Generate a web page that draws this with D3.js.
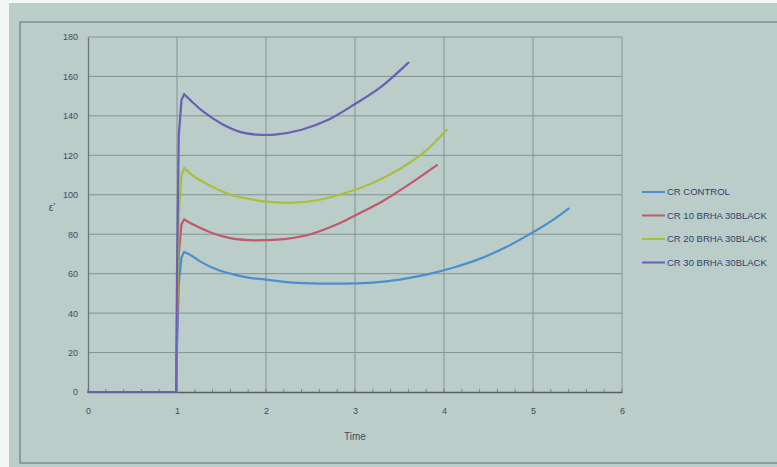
<!DOCTYPE html>
<html><head><meta charset="utf-8">
<script src="https://cdn.jsdelivr.net/npm/d3@7"></script>
<style>body{margin:0;background:#f4f6f5;}svg{display:block;}</style>
</head><body>
<svg id="c" width="777" height="467"></svg>
<script>
const seriesNames = ["CR CONTROL","CR 10 BRHA 30BLACK","CR 20 BRHA 30BLACK","CR 30 BRHA 30BLACK"];
const seriesColors = ["#4a8fd2","#c4586a","#a9bf3c","#6a5fb5"];
const xTicks = [0,1,2,3,4,5,6];
const yTicks = [0,20,40,60,80,100,120,140,160,180];
const tControl = [0,0.99,1.0,1.02,1.05,1.08,1.15,1.25,1.4,1.6,1.8,2.0,2.3,2.6,2.9,3.2,3.5,3.8,4.1,4.4,4.7,5.0,5.2,5.4];
const vControl = [0,0,22,55,68,71,69.5,66.5,63,60,58,57,55.5,55,55,55.5,57,59.5,63,67.5,73.5,81,86.5,93];
const tCR10 = [0,0.99,1.0,1.02,1.05,1.08,1.2,1.4,1.6,1.8,2.0,2.2,2.5,2.8,3.0,3.3,3.6,3.92];
const vCR10 = [0,0,30,70,85,87.5,84.5,80.5,78,77,77,77.5,80,85,89.5,96.5,105,115];
const tCR20 = [0,0.99,1.0,1.02,1.05,1.08,1.2,1.4,1.6,1.8,2.0,2.3,2.6,2.9,3.2,3.5,3.8,4.03];
const vCR20 = [0,0,40,90,110,113.5,109,104,100,98,96.5,96,97.5,101,106,113,122.5,133];
const tCR30 = [0,0.99,1.0,1.02,1.05,1.08,1.15,1.3,1.5,1.7,1.9,2.1,2.4,2.7,3.0,3.3,3.6];
const vCR30 = [0,0,60,130,148,151,148,142,136,132,130.5,130.5,133,138,146,155,167];
const seriesT = [tControl,tCR10,tCR20,tCR30];
const seriesV = [vControl,vCR10,vCR20,vCR30];
const peakIndex = 5;

const svg = d3.select("#c");
svg.append("rect").attr("x",9).attr("y",3).attr("width",768).attr("height",464).attr("fill","#bacdc9");
svg.append("rect").attr("x",20).attr("y",22).attr("width",770).attr("height",441)
  .attr("fill","none").attr("stroke","#6e7e7e").attr("stroke-width",1.2);

const L=88,R=622,T=37,B=392;
const x = d3.scaleLinear().domain([0,6]).range([L,R]);
const y = d3.scaleLinear().domain([0,180]).range([B,T]);

svg.append("g").selectAll("line").data(yTicks.slice(1)).join("line")
  .attr("x1",L).attr("x2",R).attr("y1",d=>y(d)).attr("y2",d=>y(d))
  .attr("stroke","#849392").attr("stroke-width",1);
svg.append("g").selectAll("line").data(xTicks.slice(1)).join("line")
  .attr("x1",d=>x(d)).attr("x2",d=>x(d)).attr("y1",T).attr("y2",B)
  .attr("stroke","#849392").attr("stroke-width",1);

const xa = svg.append("g").attr("transform",`translate(0,${B})`)
  .call(d3.axisBottom(x).tickValues(xTicks).tickSize(0).tickPadding(16).tickFormat(d3.format("d")));
xa.select(".domain").attr("stroke","#56605f").attr("stroke-width",1.5);
xa.selectAll("text").attr("fill","#3d4d6a").attr("font-family","Liberation Sans, Arial").attr("font-size",9);
svg.append("g").selectAll("line").data(d3.range(0,6.001,0.2)).join("line")
  .attr("x1",d=>x(d)).attr("x2",d=>x(d)).attr("y1",B-3).attr("y2",B)
  .attr("stroke","#6a7574").attr("stroke-width",0.8);
const ya = svg.append("g").attr("transform",`translate(${L},0)`)
  .call(d3.axisLeft(y).tickValues(yTicks).tickSize(0).tickPadding(10).tickFormat(d3.format("d")));
ya.select(".domain").attr("stroke","#6a7574").attr("stroke-width",1.3);
ya.selectAll("text").attr("fill","#3d4d6a").attr("font-family","Liberation Sans, Arial").attr("font-size",9);

svg.append("text").attr("x",355).attr("y",440).attr("text-anchor","middle")
  .attr("fill","#3d4d6a").attr("font-family","Liberation Sans, Arial").attr("font-size",10).text("Time");
svg.append("text").attr("x",52).attr("y",211).attr("text-anchor","middle")
  .attr("fill","#3d4d6a").attr("font-family","Liberation Sans, Arial").attr("font-size",10).text("ε'");

const rise = d3.line().x(d=>x(d[0])).y(d=>y(d[1]));
const smooth = d3.line().x(d=>x(d[0])).y(d=>y(d[1])).curve(d3.curveCatmullRom.alpha(0.5));
seriesNames.forEach((n,i)=>{
  const pts = seriesT[i].map((t,j)=>[t,seriesV[i][j]]);
  const g = svg.append("g").attr("fill","none").attr("stroke",seriesColors[i])
    .attr("stroke-width",2.2).attr("stroke-linejoin","round").attr("stroke-linecap","round");
  g.append("path").attr("d",rise(pts.slice(0,peakIndex+1)));
  g.append("path").attr("d",smooth(pts.slice(peakIndex)));
});

const lg = svg.append("g");
seriesNames.forEach((n,i)=>{
  const yy = 192 + i*23.5;
  lg.append("line").attr("x1",642).attr("x2",665).attr("y1",yy).attr("y2",yy)
    .attr("stroke",seriesColors[i]).attr("stroke-width",2);
  lg.append("text").attr("x",667).attr("y",yy+3).attr("fill","#2f4070")
    .attr("font-family","Liberation Sans Narrow, Liberation Sans, Arial").attr("font-size",9.5).text(n);
});
</script>
</body></html>
